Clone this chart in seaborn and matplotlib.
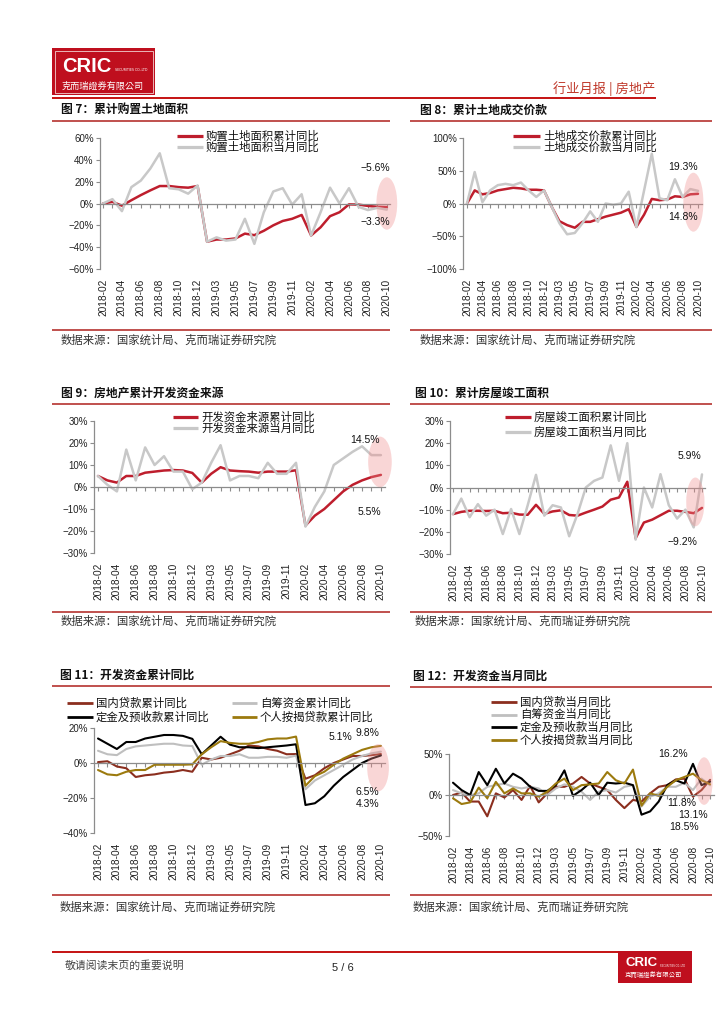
import pandas as pd
import matplotlib
matplotlib.use('Agg')
import matplotlib.pyplot as plt
import seaborn as sns
from matplotlib.lines import Line2D
from matplotlib.patches import Rectangle, Ellipse
from matplotlib.transforms import Affine2D
from matplotlib.ticker import FuncFormatter, MultipleLocator

# ---- data ----
TICK_LABELS = ['2018-02', '2018-04', '2018-06', '2018-08', '2018-10', '2018-12',
               '2019-03', '2019-05', '2019-07', '2019-09', '2019-11',
               '2020-02', '2020-04', '2020-06', '2020-08', '2020-10']

# fig 7: land purchase area
land_area_cum = [0.0, 1.5, -2.0, 3.0, 7.7, 12.0, 16.0, 16.0, 15.0, 14.5, 16.0,
                 -35.0, -33.0, -33.0, -32.0, -27.6, -29.0, -25.0, -20.0, -16.0, -14.0, -10.5,
                 -29.3, -21.8, -11.6, -8.0, -0.8, -1.0, -2.2, -3.0, -3.3]
land_area_mon = [0.0, 4.0, -7.0, 15.0, 21.0, 32.0, 46.0, 14.0, 13.0, 9.0, 16.5,
                 -35.0, -31.0, -34.0, -33.0, -14.0, -37.0, -8.0, 11.0, 14.0, -1.0, 8.5,
                 -29.3, -8.0, 14.5, 0.0, 14.0, -3.0, -6.0, -4.0, -5.6]

# fig 8: land transaction value
land_price_cum = [0.0, 20.0, 14.0, 16.0, 20.0, 22.0, 24.0, 23.0, 21.0, 21.0, 20.0,
                  -5.0, -27.0, -33.0, -37.0, -28.0, -28.0, -24.0, -20.0, -17.0, -14.0, -8.7,
                  -35.7, -17.0, 7.0, 5.0, 6.0, 11.0, 10.0, 14.0, 14.8]
land_price_mon = [0.0, 48.0, 2.0, 20.0, 28.0, 30.0, 28.0, 32.0, 20.0, 10.0, 20.0,
                  -5.0, -30.0, -47.0, -45.0, -30.0, -12.0, -28.0, 0.0, -2.0, 0.0, 18.0,
                  -36.0, 20.0, 76.0, 8.0, 5.0, 37.0, 10.0, 22.0, 19.3]

# fig 9: development funding
fund_cum = [5.0, 3.0, 2.0, 5.0, 5.0, 6.5, 7.0, 7.5, 7.7, 7.5, 6.4,
            2.0, 6.0, 9.0, 7.5, 7.2, 7.0, 6.5, 7.0, 7.0, 7.0, 7.6,
            -17.5, -13.0, -10.0, -6.0, -2.0, 1.0, 3.0, 4.5, 5.5]
fund_mon = [5.0, 1.0, -2.0, 17.0, 3.0, 18.0, 10.0, 14.0, 7.0, 7.0, -1.0,
            2.0, 11.0, 19.0, 3.0, 5.0, 5.0, 4.0, 11.0, 6.0, 6.0, 11.0,
            -18.0, -9.0, -2.0, 10.0, 13.0, 16.0, 18.5, 14.5, 14.5]

# fig 10: completed floor area
complete_cum = [-12.0, -11.0, -10.5, -10.5, -10.6, -10.5, -11.6, -11.4, -12.2, -12.3, -7.8,
                -11.9, -10.8, -10.3, -12.4, -12.7, -11.3, -10.0, -8.6, -5.5, -4.5, 2.6,
                -22.9, -15.8, -14.5, -12.5, -10.5, -10.5, -11.0, -11.6, -9.2]
complete_mon = [-12.0, -5.0, -13.4, -7.5, -12.7, -10.0, -21.0, -9.7, -21.0, -8.0, 5.7,
                -12.7, -8.0, -9.0, -22.0, -12.0, 0.0, 3.0, 4.5, 19.0, 3.0, 20.0,
                -23.5, 0.0, -9.0, 6.0, -8.0, -14.0, -10.0, -18.0, 5.9]

# fig 11: funding sources, cumulative
dom_loan_cum = [0.5, 1.0, -2.0, -3.0, -8.0, -7.0, -6.5, -5.5, -5.0, -4.0, -5.0,
                3.0, 2.0, 3.0, 5.0, 7.0, 10.0, 9.5, 8.0, 7.0, 5.0, 5.1,
                -9.0, -7.0, -3.0, 0.0, 2.0, 4.0, 4.0, 4.5, 5.1]
self_fund_cum = [7.0, 5.0, 4.5, 8.0, 9.5, 10.0, 10.5, 11.0, 11.0, 10.0, 9.7,
                 -1.0, 2.0, 4.0, 4.0, 5.0, 3.0, 3.0, 3.5, 3.5, 3.0, 4.2,
                 -15.0, -10.0, -7.0, -4.0, -1.0, 2.0, 4.0, 5.5, 6.5]
deposit_cum = [14.0, 11.0, 8.0, 12.0, 12.0, 14.0, 15.0, 16.0, 16.0, 15.5, 13.8,
               5.0, 10.0, 15.0, 10.5, 9.0, 9.0, 8.5, 9.0, 9.5, 10.0, 10.7,
               -24.0, -23.0, -19.0, -13.0, -8.0, -4.0, 0.0, 2.5, 4.3]
mortgage_cum = [-4.0, -6.5, -7.0, -5.0, -4.0, -4.0, -1.0, -1.0, -1.0, -1.0, -0.8,
                5.0, 9.0, 12.5, 11.5, 11.0, 11.0, 12.0, 13.5, 14.0, 14.0, 15.1,
                -13.0, -7.5, -5.0, -1.0, 2.5, 5.0, 7.5, 9.0, 9.8]

# fig 12: funding sources, monthly
dom_loan_mon = [0.0, 3.0, -8.0, -8.0, -26.0, 2.0, -3.0, 6.0, -6.0, 11.0, -9.0,
                2.0, 10.0, 10.0, 14.0, 22.0, 14.0, 10.0, 6.0, -6.0, -16.0, -6.0,
                -8.0, 2.0, 10.0, 12.0, 19.0, 20.0, -2.0, 6.0, 18.5]
self_fund_mon = [6.0, 2.0, 0.0, 2.0, 10.0, 12.0, 14.0, 10.0, 8.0, 10.0, 8.0,
                 0.0, 8.0, 13.0, 10.0, 4.0, -6.0, 4.0, 6.0, 3.0, 10.0, 12.0,
                 -14.0, -2.0, 2.0, 10.0, 10.0, 15.0, 6.0, 20.0, 11.8]
deposit_mon = [15.0, 6.0, 0.0, 28.0, 12.0, 32.0, 14.0, 26.0, 20.0, 10.0, 5.0,
               5.0, 12.0, 30.0, -1.0, 6.0, 15.0, 0.0, 15.0, 14.0, 15.0, 12.0,
               -24.0, -20.0, -8.0, 12.0, 18.0, 14.0, 38.0, 12.0, 16.2]
mortgage_mon = [-4.0, -11.0, -9.0, 9.0, -4.0, 16.0, 2.0, 8.0, 2.0, 2.0, -2.0,
                4.0, 14.0, 20.0, 6.0, 12.0, 13.0, 14.0, 28.0, 18.0, 14.0, 31.0,
                -13.0, 2.0, -1.0, 10.0, 18.0, 22.0, 26.0, 18.0, 13.1]

SOURCE = '数据来源：国家统计局、克而瑞证券研究院'
RED = '#BE1E2D'
GRAY = '#C8C8C8'
BROWN = '#8B2E1E'
LGRAY = '#BFBFBF'
BLACK = '#000000'
GOLD = '#9C7A0E'
AXC = '#8C8C8C'
LINE_RED = '#C0504D'

W, H = 724, 1024
sns.set_theme(style='white')
plt.rcParams['font.family'] = ['Noto Sans CJK SC', 'DejaVu Sans']

fig = plt.figure(figsize=(W / 100, H / 100), dpi=100)
fig.patch.set_facecolor('white')
# pixel coordinates, origin at top-left
PX = Affine2D().scale(1 / W, -1 / H).translate(0, 1) + fig.transFigure


def ptext(x, y, s, **kw):
    fig.text(x, y, s, transform=PX, **kw)


def pline(x0, x1, y0, y1, color, lw):
    fig.add_artist(Line2D([x0, x1], [y0, y1], transform=PX, color=color, lw=lw,
                          solid_capstyle='butt'))


def pct(v, p):
    return f'{v:.0f}%'.replace('-', '\u2212')


def draw_chart(box, names, series, colors, lw, ylim, ystep):
    left, x0, step, top, bottom = box
    n = len(series[0])
    pad = (x0 - left) / step
    right = x0 + (n - 1 + pad) * step
    ax = fig.add_axes([left / W, 1 - bottom / H, (right - left) / W, (bottom - top) / H])
    ax.patch.set_alpha(0)

    df = pd.DataFrame({
        'idx': [i for s in series for i in range(len(s))],
        'val': [v for s in series for v in s],
        'series': [nm for nm, s in zip(names, series) for _ in s],
    })
    sns.lineplot(data=df, x='idx', y='val', hue='series', hue_order=names,
                 palette=dict(zip(names, colors)), linewidth=lw, legend=False,
                 sort=False, ax=ax)
    for ln in ax.lines:
        ln.set_solid_joinstyle('round')
        ln.set_solid_capstyle('round')
        ln.set_clip_on(False)

    ax.set_xlim(-pad, n - 1 + pad)
    ax.set_ylim(*ylim)
    ax.set_xlabel('')
    ax.set_ylabel('')
    ax.yaxis.set_major_locator(MultipleLocator(ystep))
    ax.yaxis.set_major_formatter(FuncFormatter(pct))
    for s in ['top', 'right']:
        ax.spines[s].set_visible(False)
    ax.spines['left'].set_color(AXC)
    ax.spines['left'].set_linewidth(0.9)
    ax.spines['bottom'].set_position(('data', 0))
    ax.spines['bottom'].set_color(AXC)
    ax.spines['bottom'].set_linewidth(0.9)
    ax.set_xticks(range(n))
    ax.tick_params(axis='x', length=3, width=0.8, direction='out', color=AXC,
                   labelbottom=False, bottom=True)
    ax.tick_params(axis='y', length=3, width=0.8, direction='out', color=AXC, left=True,
                   labelsize=7, pad=1.5, labelcolor='#222', labelfontfamily='Liberation Sans')

    sec = ax.secondary_xaxis(0)
    sec.set_xticks(range(0, n, 2), labels=TICK_LABELS)
    sec.tick_params(length=0, pad=7, labelsize=7.3, labelcolor='#222',
                    labelrotation=90, labelfontfamily='Liberation Sans')
    sec.spines['bottom'].set_visible(False)
    return ax


def mark(ax, cx, cy, w, h):
    ax.add_patch(Ellipse((cx, cy), w, h, facecolor='#F08A8A', edgecolor='none',
                         alpha=0.35, zorder=5, clip_on=False))


def note(ax, x, y, s):
    ax.text(x, y, s, ha='center', va='center', fontsize=7.5, color='#111',
            family='Liberation Sans', zorder=6)


def legend_rows(items, lw):
    for x0, x1, y, color, label in items:
        pline(x0, x1, y, y, color, lw)
        ptext(x1 + 3, y, label, fontsize=8.2, va='center', ha='left', color='#111')


# ---- header ----
fig.add_artist(Rectangle((52, 48), 103, 47, transform=PX, facecolor='#BF0F1E', edgecolor='none'))
fig.add_artist(Rectangle((54.5, 50.5), 98, 42, transform=PX, fill=False, edgecolor='#F2D0D0', lw=0.6))
ptext(62, 66, 'CRIC', color='white', fontsize=14.5, fontweight='bold', va='center',
      family='Liberation Sans')
ptext(115, 70, 'SECURITIES CO.,LTD', color='white', fontsize=2.3, va='center', family='DejaVu Sans')
ptext(62, 86, '克而瑞證券有限公司', color='white', fontsize=6.6, va='center',
      family=['Noto Sans CJK TC', 'DejaVu Sans'])
pline(52, 656, 98, 98, '#C00000', 1.3)
ptext(655, 89, '行业月报 | 房地产', color='#C0392B', fontsize=9.5, ha='right', va='center')

# ---- section frames ----
cols = {'L': (52, 390), 'R': (410, 712)}
titles = [
    ('L', 61, 110, 121, 330, 340, '图 7：累计购置土地面积'),
    ('R', 420, 110, 121, 330, 340, '图 8：累计土地成交价款'),
    ('L', 61, 393, 404, 612, 621, '图 9：房地产累计开发资金来源'),
    ('R', 415, 393, 404, 612, 621, '图 10：累计房屋竣工面积'),
    ('L', 60, 675, 686, 895, 907, '图 11：开发资金累计同比'),
    ('R', 413, 676, 687, 895, 907, '图 12：开发资金当月同比'),
]
for col, tx, ty, ly, sy, sty, title in titles:
    x0, x1 = cols[col]
    ptext(tx, ty, title, fontsize=8.5, fontweight='bold', va='center', color='#111')
    pline(x0, x1, ly, ly, LINE_RED, 1.4)
    pline(x0, x1, sy, sy, LINE_RED, 1.4)
    ptext(tx, sty, SOURCE, fontsize=8.2, va='center', color='#333')

# ---- fig 7 ----
ax7 = draw_chart((100, 103, 9.46, 138, 269), ['cum', 'mon'],
                 [land_area_cum, land_area_mon], [RED, GRAY], 1.8, (-60, 60), 20)
mark(ax7, 30.0, 0, 2.2, 48)
note(ax7, 28.8, 32.5, '\u22125.6%')
note(ax7, 28.8, -17, '\u22123.3%')
legend_rows([(177, 203, 136, RED, '购置土地面积累计同比'),
             (177, 203, 147, GRAY, '购置土地面积当月同比')], 2.3)

# ---- fig 8 ----
ax8 = draw_chart((463, 467, 7.7, 138, 269), ['cum', 'mon'],
                 [land_price_cum, land_price_mon], [RED, GRAY], 1.8, (-100, 100), 50)
mark(ax8, 29.4, 2, 2.6, 90)
note(ax8, 28.0, 55.7, '19.3%')
note(ax8, 28.0, -20.6, '14.8%')
legend_rows([(513, 540, 136, RED, '土地成交价款累计同比'),
             (513, 540, 147, GRAY, '土地成交价款当月同比')], 2.3)

# ---- fig 9 ----
ax9 = draw_chart((94, 98, 9.43, 421, 553), ['cum', 'mon'],
                 [fund_cum, fund_mon], [RED, GRAY], 1.8, (-30, 30), 10)
mark(ax9, 29.9, 11.4, 2.5, 23)
note(ax9, 28.3, 21.4, '14.5%')
note(ax9, 28.8, -11.4, '5.5%')
legend_rows([(173, 198, 417, RED, '开发资金来源累计同比'),
             (173, 198, 428, GRAY, '开发资金来源当月同比')], 2.3)

# ---- fig 10 ----
ax10 = draw_chart((450, 453, 8.3, 421, 554), ['cum', 'mon'],
                  [complete_cum, complete_mon], [RED, GRAY], 1.8, (-30, 30), 10)
mark(ax10, 29.2, -6.5, 2.2, 22)
note(ax10, 28.5, 14.2, '5.9%')
note(ax10, 27.6, -24.6, '\u22129.2%')
legend_rows([(505, 531, 417, RED, '房屋竣工面积累计同比'),
             (505, 531, 432, GRAY, '房屋竣工面积当月同比')], 2.3)

# ---- fig 11 ----
ax11 = draw_chart((94, 98, 9.43, 728, 833), ['dom', 'self', 'dep', 'mort'],
                  [dom_loan_cum, self_fund_cum, deposit_cum, mortgage_cum],
                  [BROWN, LGRAY, BLACK, GOLD], 1.5, (-40, 20), 20)
mark(ax11, 29.7, -2.7, 2.3, 27)
note(ax11, 25.7, 14.9, '5.1%')
note(ax11, 28.6, 17.1, '9.8%')
note(ax11, 28.6, -16.7, '6.5%')
note(ax11, 28.6, -23.6, '4.3%')
legend_rows([(67, 93, 703, BROWN, '国内贷款累计同比'),
             (232, 257, 703, LGRAY, '自筹资金累计同比'),
             (67, 93, 717, BLACK, '定金及预收款累计同比'),
             (232, 257, 717, GOLD, '个人按揭贷款累计同比')], 2.0)

# ---- fig 12 ----
ax12 = draw_chart((449, 453, 8.57, 754, 836), ['dom', 'self', 'dep', 'mort'],
                  [dom_loan_mon, self_fund_mon, deposit_mon, mortgage_mon],
                  [BROWN, LGRAY, BLACK, GOLD], 1.5, (-50, 50), 50)
mark(ax12, 29.3, 17, 2.0, 58)
note(ax12, 25.7, 50, '16.2%')
note(ax12, 26.7, -9.8, '11.8%')
note(ax12, 28.0, -24.4, '13.1%')
note(ax12, 26.9, -39, '18.5%')
legend_rows([(491, 517, 702, BROWN, '国内贷款当月同比'),
             (491, 517, 714.5, LGRAY, '自筹资金当月同比'),
             (491, 517, 727, BLACK, '定金及预收款当月同比'),
             (491, 517, 740, GOLD, '个人按揭贷款当月同比')], 2.0)

# ---- footer ----
pline(52, 618, 952, 952, '#C00000', 1.3)
ptext(65, 966, '敬请阅读末页的重要说明', fontsize=7.8, va='center', color='#444')
ptext(343, 968, '5 / 6', fontsize=8, va='center', ha='center', color='#222',
      family='Liberation Sans')
fig.add_artist(Rectangle((618, 951), 74, 32, transform=PX, facecolor='#BF0F1E', edgecolor='none'))
ptext(625, 963, 'CRIC', color='white', fontsize=9.5, fontweight='bold', va='center',
      family='Liberation Sans')
ptext(660, 966, 'SECURITIES CO.,LTD', color='white', fontsize=1.8, va='center', family='DejaVu Sans')
ptext(625, 975, '克而瑞證券有限公司', color='white', fontsize=4.6, va='center',
      family=['Noto Sans CJK TC', 'DejaVu Sans'])

fig.savefig('out.png', dpi=100, facecolor='white')
plt.close(fig)
